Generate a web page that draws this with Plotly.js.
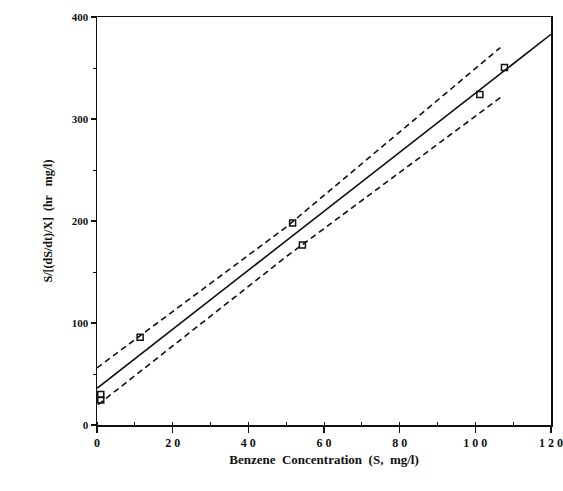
<!DOCTYPE html>
<html>
<head>
<meta charset="utf-8">
<script src="https://cdn.plot.ly/plotly-3.0.1.min.js"></script>
<style>html,body{margin:0;padding:0;background:#fff;}#chart{width:563px;height:491px;}</style>
</head>
<body>
<div id="chart"></div>
<script>
// Measured data points
const pointX = [1, 1, 11.4, 51.7, 54.3, 101.2, 107.7];
const pointY = [30, 24.5, 86, 198, 176.5, 324, 350.5];
// Regression line
const fitX = [0, 120];
const fitY = [36, 383];
// Upper confidence band
const upperX = [0, 50, 106.6];
const upperY = [56, 194, 370];
// Lower confidence band
const lowerX = [0.3, 50, 107];
const lowerY = [20, 165, 322];
// Tick labels
const xTicks = [0, 20, 40, 60, 80, 100, 120];
const xTickText = ['0', '2 0', '4 0', '6 0', '8 0', '1 0 0', '1 2 0'];
const yTicks = [0, 100, 200, 300, 400];
const yTickText = ['0', '100', '200', '300', '400'];

const serif = 'Liberation Serif, Times New Roman, serif';

const traces = [
  {x: upperX, y: upperY, mode: 'lines', line: {color: '#111', width: 1.6, dash: '6px,4px'}, hoverinfo: 'skip'},
  {x: lowerX, y: lowerY, mode: 'lines', line: {color: '#111', width: 1.6, dash: '6px,4px'}, hoverinfo: 'skip'},
  {x: fitX, y: fitY, mode: 'lines', line: {color: '#111', width: 1.6}},
  {x: pointX, y: pointY, mode: 'markers', marker: {symbol: 'square-open', size: 6, color: '#111', line: {width: 1.5}}}
];

const layout = {
  width: 563, height: 491,
  margin: {l: 97, r: 12, t: 17, b: 66},
  paper_bgcolor: '#fff', plot_bgcolor: '#fff',
  showlegend: false,
  font: {family: serif, color: '#111'},
  xaxis: {
    range: [0, 120], showgrid: false, zeroline: false,
    showline: true, linecolor: '#111', linewidth: 1.5, mirror: true,
    tickmode: 'array', tickvals: xTicks, ticktext: xTickText,
    ticks: 'outside', ticklen: 6, tickwidth: 1.2, tickcolor: '#111',
    minor: {dtick: 10, ticks: 'inside', ticklen: 3, tickwidth: 1, tickcolor: '#111'},
    tickfont: {family: serif, size: 12, color: '#111', weight: 'bold'},
    title: {text: '<b>Benzene  Concentration  (S,  mg/l)</b>', font: {family: serif, size: 13, color: '#111'}, standoff: 6}
  },
  yaxis: {
    range: [0, 400], showgrid: false, zeroline: false,
    showline: true, linecolor: '#111', linewidth: 1.5, mirror: true,
    tickmode: 'array', tickvals: yTicks, ticktext: yTickText,
    ticks: 'outside', ticklen: 5, tickwidth: 1.2, tickcolor: '#111',
    minor: {dtick: 50, ticks: 'outside', ticklen: 3, tickwidth: 1, tickcolor: '#111'},
    tickfont: {family: serif, size: 11, color: '#111', weight: 'bold'},
    title: {text: '<b>S/[(dS/dt)/X]  (hr   mg/l)</b>', font: {family: serif, size: 12, color: '#111'}, standoff: 16}
  }
};

Plotly.newPlot('chart', traces, layout, {staticPlot: true, displayModeBar: false});
</script>
</body>
</html>
